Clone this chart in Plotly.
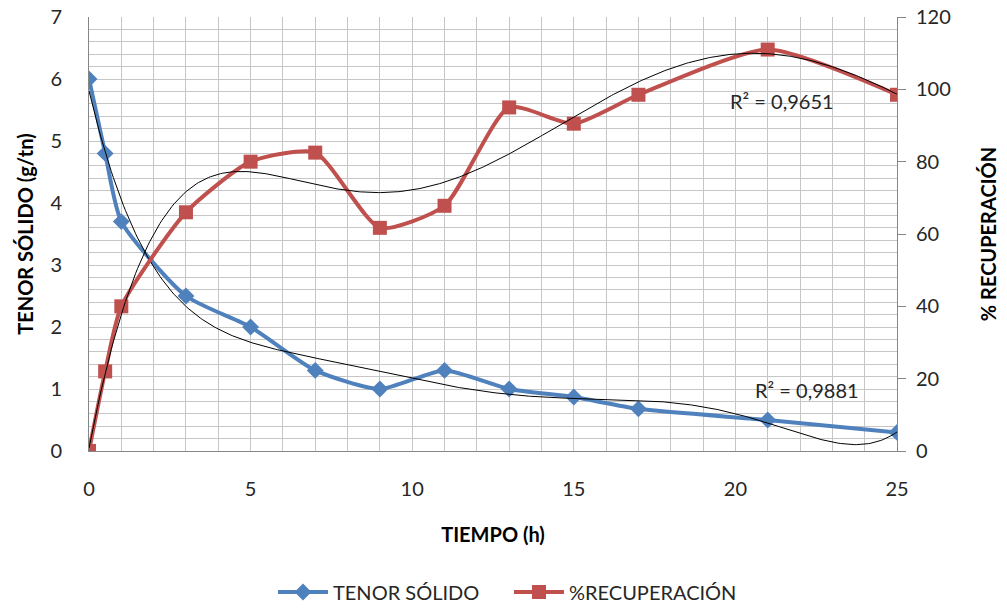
import numpy as np
import plotly.graph_objects as go

tiempo = [0, 0.5, 1, 3, 5, 7, 9, 11, 13, 15, 17, 21, 25]
tenor_solido = [6.0, 4.8, 3.7, 2.5, 2.0, 1.3, 1.0, 1.3, 1.0, 0.87, 0.68, 0.5, 0.3]
recuperacion = [0, 22, 40, 66, 80, 82.5, 61.7, 67.8, 95, 90.5, 98.5, 111, 98.5]

BLUE = "#4f81bd"
RED = "#c0504d"
FONT = "Lato"

xs = np.array(tiempo, dtype=float)
xfine = np.linspace(0, 25, 400)
fit_b = np.poly1d(np.polyfit(xs, tenor_solido, 6))
fit_r = np.poly1d(np.polyfit(xs, recuperacion, 6))

fig = go.Figure()
fig.add_trace(go.Scatter(x=tiempo, y=tenor_solido, name="TENOR SÓLIDO",
                         mode="lines+markers", line=dict(color=BLUE, width=4, shape="spline", smoothing=0.6),
                         marker=dict(symbol="diamond", size=13, color=BLUE)))
fig.add_trace(go.Scatter(x=tiempo, y=recuperacion, name="%RECUPERACIÓN", yaxis="y2",
                         mode="lines+markers", line=dict(color=RED, width=4, shape="spline", smoothing=0.6),
                         marker=dict(symbol="square", size=14, color=RED)))
fig.add_trace(go.Scatter(x=xfine, y=fit_b(xfine), mode="lines", showlegend=False,
                         line=dict(color="black", width=1), hoverinfo="skip"))
fig.add_trace(go.Scatter(x=xfine, y=fit_r(xfine), mode="lines", showlegend=False, yaxis="y2",
                         line=dict(color="black", width=1), hoverinfo="skip"))

fig.update_layout(
    width=1007, height=610,
    margin=dict(l=89, r=110, t=17, b=159, autoexpand=False),
    plot_bgcolor="white", paper_bgcolor="white",
    font=dict(family=FONT, size=20, color="#262626"),
    xaxis=dict(range=[0, 25], tick0=0, dtick=5, showgrid=True, gridcolor="#c6c6c6", gridwidth=1,
               minor=dict(dtick=1, showgrid=True, gridcolor="#c6c6c6"),
               showline=True, linecolor="#868686", linewidth=1, zeroline=False,
               ticks="", ticklabelstandoff=20,
               title=dict(text="<b>TIEMPO (h)</b>", font=dict(size=20, color="black"), standoff=28)),
    yaxis=dict(range=[0, 7], dtick=1, showgrid=True, gridcolor="#c6c6c6",
               minor=dict(dtick=0.2, showgrid=True, gridcolor="#c6c6c6"),
               showline=True, linecolor="#868686", zeroline=False, ticks="", ticklabelstandoff=22,
               title=dict(text="<b>TENOR SÓLIDO (g/tn)</b>", font=dict(size=20, color="black"), standoff=11)),
    yaxis2=dict(range=[0, 120], dtick=20, overlaying="y", side="right", showgrid=False,
                showline=True, linecolor="#868686", zeroline=False, ticks="outside", ticklen=8,
                tickcolor="#868686", ticklabelstandoff=6,
                title=dict(text="<b>% RECUPERACIÓN</b>", font=dict(size=20, color="black"), standoff=32)),
    legend=dict(orientation="h", x=273 / 1007, xanchor="left", xref="container",
                y=18 / 610, yanchor="middle", yref="container", itemwidth=50,
                entrywidth=171, entrywidthmode="pixels",
                font=dict(size=20), traceorder="normal"),
    showlegend=True,
    annotations=[
        dict(x=21.45, y=5.65, xref="x", yref="y", text="R² = 0,9651", showarrow=False,
             font=dict(size=20, color="#262626")),
        dict(x=22.2, y=0.98, xref="x", yref="y", text="R² = 0,9881", showarrow=False,
             font=dict(size=20, color="#262626")),
    ],
)
fig.write_html("out.html")
